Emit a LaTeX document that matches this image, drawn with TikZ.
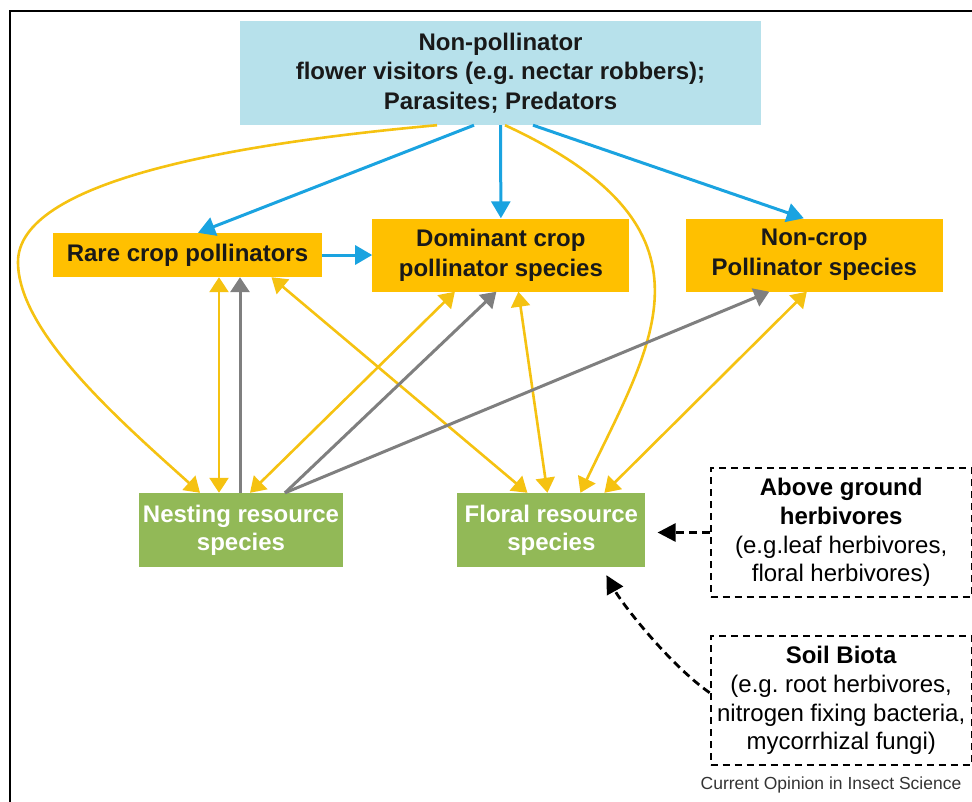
\documentclass[tikz,border=0pt]{standalone}
\usepackage{fontspec}
\setmainfont{Liberation Sans}
\usetikzlibrary{arrows.meta, positioning}
\frenchspacing

\definecolor{visitorblue}{HTML}{B7E1EB}
\definecolor{cropgold}{HTML}{FFC000}
\definecolor{resgreen}{HTML}{92B957}
\definecolor{linkyellow}{HTML}{F5C211}
\definecolor{linkblue}{HTML}{1AA3E0}
\definecolor{linkgray}{HTML}{7F7F7F}

\begin{document}
\begin{tikzpicture}[
    x=1pt, y=-1pt,
    >={Triangle[length=15pt, width=19pt]},
    visitor/.style={
        rectangle, fill=visitorblue,
        minimum width=521pt, minimum height=104pt,
        inner sep=0pt, align=center, text=black!90,
        font=\fontsize{24}{29.5}\selectfont\bfseries
    },
    crop/.style={
        rectangle, fill=cropgold,
        minimum width=257pt, minimum height=73pt,
        inner sep=0pt, align=center, text=black!90,
        font=\fontsize{24}{30}\selectfont\bfseries
    },
    resource/.style={
        rectangle, fill=resgreen,
        minimum height=74pt,
        inner sep=0pt, align=center, text=white,
        font=\fontsize{24}{28}\selectfont\bfseries
    },
    biota/.style={
        rectangle, draw=black, line width=2.2pt,
        dash pattern=on 7pt off 5pt,
        minimum width=261pt, minimum height=129pt,
        inner sep=0pt, align=center,
        font=\fontsize{24}{28.7}\selectfont
    },
    ylink/.style={draw=linkyellow, line width=2.6pt},
    blink/.style={-{Triangle[length=17pt, width=19pt]}, draw=linkblue, line width=3pt},
    glink/.style={->, draw=linkgray, line width=3pt},
    dlink/.style={-{Triangle[length=18pt, width=18pt]}, draw=black, line width=2.8pt, dash pattern=on 8pt off 5pt}
]

% Frame
\useasboundingbox (0,0) rectangle (972,801);
\clip (0,0) rectangle (972,801);
\draw[line width=2pt] (10,11) rectangle (1000,830);

% Top box
\node[visitor] (top) at (500.5,73) {Non-pollinator\\flower visitors (e.g. nectar robbers);\\Parasites; Predators};

% Pollinators
\node[crop, minimum width=269pt, minimum height=44pt] (rare) at (187.5,255) {Rare crop pollinators};
\node[crop, right=50pt of rare] (dom) {Dominant crop\\pollinator species};
\node[crop, right=56pt of dom] (noncrop) {Non-crop\\Pollinator species};

% Resources
\node[resource, minimum width=204pt] (nest) at (241,530) {Nesting resource\\species};
\node[resource, minimum width=188pt, right=114pt of nest] (floral) {Floral resource\\species};

% Other biota
\node[biota, right=64pt of floral, yshift=-2.5pt] (above) {\textbf{Above ground}\\\textbf{herbivores}\\(e.g.leaf herbivores,\\floral herbivores)};
\node[biota, below=37pt of above] (soil) {\textbf{Soil Biota}\\(e.g. root herbivores,\\nitrogen fixing bacteria,\\mycorrhizal fungi)};

% Caption
\node[font=\fontsize{17.5}{20}\selectfont, text=black!80] (credit) at (831,785) {Current Opinion in Insect Science};

% Blue arrows
\draw[blink] ([xshift=-26.5pt]top.south) -- ([xshift=10.5pt]rare.north);
\draw[blink] (top.south) -- (dom.north);
\draw[blink] ([xshift=32.5pt]top.south) -- ([xshift=-10.5pt]noncrop.north);
\draw[blink] (rare.east) -- (rare.east -| dom.west);

% Yellow curves
\coordinate (lbend) at (18,262);
\draw[ylink, ->] ([xshift=-63.5pt]top.south) .. controls +(-210,19) and +(0,-80) .. (lbend)
    .. controls +(0,70) and +(-80,-72) .. ([xshift=-41pt]nest.north);
\draw[ylink, ->] ([xshift=4.5pt]top.south) .. controls +(225,104) and +(72,-151) .. ([xshift=29pt]floral.north);

% Yellow double arrows
\draw[ylink, <->] ([xshift=31.5pt]rare.south) -- ([xshift=-22pt]nest.north);
\draw[ylink, <->] ([xshift=84pt]rare.south) -- ([xshift=-24pt]floral.north);
\draw[ylink, <->] ([xshift=-46pt]dom.south) -- ([xshift=9pt]nest.north);
\draw[ylink, <->] ([xshift=17.5pt]dom.south) -- ([xshift=-4pt]floral.north);
\draw[ylink, <->] ([xshift=-7.5pt]noncrop.south) -- ([xshift=53pt]floral.north);

% Gray arrows
\draw[glink] ([xshift=-1pt]nest.north) -- ([xshift=52.5pt]rare.south);
\draw[glink] ([xshift=44pt]nest.north) -- ([xshift=-4.5pt]dom.south);
\draw[glink] ([xshift=44pt]nest.north) -- ([xshift=-45pt]noncrop.south);

% Dashed arrows
\draw[dlink, shorten >=12pt] (above.west) -- (above.west -| floral.east);
\draw[dlink] ([yshift=8pt]soil.west) .. controls +(-40,-28) and +(16,29) .. ([xshift=55pt, yshift=-8pt]floral.south);

\end{tikzpicture}
\end{document}
